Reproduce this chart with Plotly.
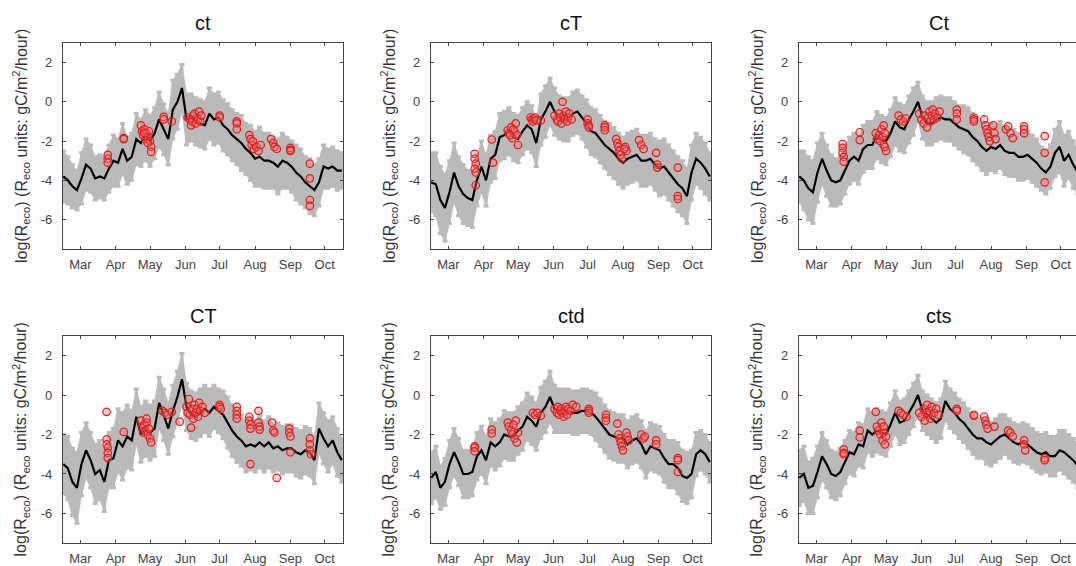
import plotly.graph_objects as go

# ---------------- data ----------------
# day of year sampling of the model output
day = [45, 49, 53, 57, 61, 65, 69, 73, 77, 81, 85, 89, 93, 97, 101, 105, 109, 113, 117, 121,
       125, 129, 133, 137, 141, 145, 149, 153, 157, 161, 165, 169, 173, 177, 181, 185, 189, 193,
       197, 201, 205, 209, 213, 217, 221, 225, 229, 233, 237, 241, 245, 249, 253, 257, 261, 265,
       269, 273, 277, 281, 285, 289]

month_ticks = [60, 91, 121, 152, 182, 213, 244, 274]
month_labels = ["Mar", "Apr", "May", "Jun", "Jul", "Aug", "Sep", "Oct"]
y_ticks = [-6, -4, -2, 0, 2]
y_labels = ["-6", "-4", "-2", "0", "2"]

panel_names = ["ct", "cT", "Ct", "CT", "ctd", "cts"]

ct_mean = [-3.8, -4.0, -4.3, -4.5, -3.9, -3.2, -3.4, -3.9, -3.8, -3.9, -3.4, -3.0, -3.1, -2.4, -3.0,
           -2.8, -1.9, -2.1, -1.7, -2.0, -1.6, -0.9, -1.4, -1.9, -0.4, 0.0, 0.7, -0.9, -0.8, -1.0,
           -1.1, -1.2, -0.6, -0.9, -0.8, -1.2, -1.4, -1.7, -1.9, -2.1, -2.4, -2.6, -2.9, -2.8, -3.0,
           -3.0, -3.1, -3.3, -3.0, -3.1, -3.3, -3.6, -3.8, -4.1, -4.3, -4.5, -4.1, -3.3, -3.4, -3.3,
           -3.5, -3.5]
ct_err = [1.3, 1.2, 1.1, 1.0, 1.3, 1.3, 1.2, 1.1, 1.1, 1.1, 1.2, 1.3, 1.2, 1.3, 1.2, 1.2, 1.3, 1.2,
          1.3, 1.3, 1.3, 1.4, 1.3, 1.3, 1.5, 1.4, 1.2, 1.3, 1.2, 1.2, 1.2, 1.2, 1.3, 1.3, 1.3, 1.3,
          1.3, 1.3, 1.3, 1.4, 1.3, 1.4, 1.4, 1.5, 1.4, 1.4, 1.3, 1.4, 1.4, 1.3, 1.3, 1.4, 1.4, 1.3,
          1.4, 1.3, 1.2, 1.1, 1.0, 1.0, 1.0, 0.9]
ct_obs = [(84, -2.7), (84, -2.9), (84, -3.1), (98, -1.85), (98, -1.9),
          (113, -1.2), (114, -1.5), (115, -1.7), (116, -1.4), (117, -1.9), (118, -1.6), (119, -1.8),
          (120, -1.5), (121, -2.0), (122, -2.3), (122, -2.55), (119, -2.1), (116, -1.6),
          (133, -0.77), (133, -0.9), (140, -1.0),
          (154, -0.8), (156, -0.9), (157, -1.2), (158, -1.0), (159, -0.7), (160, -0.6), (161, -1.1),
          (162, -0.8), (163, -0.9), (164, -0.5), (165, -1.0), (166, -0.7),
          (182, -0.7), (182, -0.8), (197, -1.0), (197, -1.1), (197, -1.4),
          (208, -1.7), (209, -1.9), (210, -2.2), (211, -2.0), (212, -2.4), (214, -2.3), (216, -2.5),
          (218, -2.2), (227, -1.9), (229, -2.1), (230, -2.3), (232, -2.4),
          (244, -2.35), (244, -2.45), (244, -2.5), (261, -3.15), (261, -3.9), (261, -5.0), (261, -5.3)]

cT_mean = [-4.1, -4.2, -5.0, -5.4, -4.6, -3.6, -4.3, -4.7, -4.9, -5.0, -4.0, -3.3, -4.0, -2.9, -2.7,
           -1.8, -1.7, -1.5, -1.8, -1.9, -1.5, -1.2, -1.4, -2.1, -0.9, -0.5, 0.0, -0.5, -0.8, -0.9,
           -0.9, -0.6, -0.5, -0.8, -1.1, -1.5, -1.6, -1.9, -2.2, -2.4, -2.6, -2.9, -3.1, -2.9, -2.8,
           -2.7, -3.0, -3.0, -2.9, -3.2, -3.4, -3.3, -3.6, -3.9, -4.2, -4.4, -4.8, -3.6, -2.9, -3.1,
           -3.4, -3.8]
cT_err = [1.5, 1.6, 1.7, 1.7, 1.6, 1.5, 1.5, 1.5, 1.4, 1.4, 1.3, 1.3, 1.3, 1.2, 1.2, 1.2, 1.2, 1.2,
          1.2, 1.2, 1.2, 1.2, 1.2, 1.2, 1.3, 1.3, 1.2, 1.2, 1.1, 1.1, 1.1, 1.1, 1.1, 1.1, 1.2, 1.2,
          1.2, 1.2, 1.2, 1.3, 1.3, 1.3, 1.3, 1.3, 1.3, 1.3, 1.3, 1.3, 1.3, 1.3, 1.4, 1.4, 1.4, 1.4,
          1.4, 1.4, 1.4, 1.4, 1.3, 1.3, 1.3, 1.2]
cT_obs = [(83, -2.65), (83, -2.9), (84, -3.15), (83, -3.4), (84, -3.6), (84, -4.25),
          (98, -1.92), (99, -3.1),
          (112, -1.45), (113, -1.6), (115, -1.3), (116, -1.85), (118, -1.5), (119, -1.1), (120, -1.7),
          (121, -2.2), (117, -1.4), (114, -1.7),
          (132, -0.8), (133, -0.9), (134, -1.0), (135, -0.85), (136, -0.8), (137, -0.95), (141, -0.95),
          (153, -0.7), (155, -0.9), (156, -1.0), (157, -0.6), (158, -0.8), (159, -1.1), (160, 0.0),
          (161, -0.7), (162, -0.9), (163, -0.5), (164, -1.0), (165, -0.8), (166, -0.6), (168, -0.9),
          (182, -0.9), (182, -1.1), (183, -1.2), (183, -1.3),
          (197, -1.2), (197, -1.3), (197, -1.45),
          (207, -1.9), (208, -2.1), (209, -2.3), (210, -2.5), (211, -2.7), (212, -2.9), (215, -2.3),
          (216, -2.5), (214, -2.4),
          (227, -1.95), (229, -2.2), (231, -2.4), (242, -2.6), (243, -3.2), (243, -3.35),
          (261, -3.35), (261, -4.8), (261, -4.95)]

Ct_mean = [-3.8, -4.0, -4.4, -4.6, -3.6, -2.9, -3.5, -4.0, -4.1, -4.0, -3.5, -3.0, -2.8, -3.0, -2.4,
           -2.2, -2.2, -1.7, -1.9, -2.0, -1.6, -1.0, -1.3, -1.4, -0.9, -0.5, 0.0, -0.8, -1.1, -1.1,
           -0.9, -0.8, -0.9, -0.9, -1.1, -1.3, -1.4, -1.5, -1.8, -2.0, -2.3, -2.5, -2.3, -2.4, -2.2,
           -2.5, -2.6, -2.6, -2.8, -2.8, -2.7, -2.9, -3.1, -3.4, -3.6, -3.3, -2.6, -2.3, -3.0, -2.7,
           -3.2, -3.6]
Ct_err = [1.3, 1.5, 1.6, 1.6, 1.5, 1.3, 1.3, 1.3, 1.2, 1.2, 1.2, 1.2, 1.2, 1.2, 1.2, 1.2, 1.2, 1.2,
          1.2, 1.2, 1.2, 1.2, 1.2, 1.2, 1.2, 1.2, 1.0, 1.1, 1.1, 1.1, 1.1, 1.1, 1.1, 1.1, 1.1, 1.1,
          1.2, 1.2, 1.2, 1.2, 1.2, 1.2, 1.2, 1.2, 1.2, 1.2, 1.2, 1.2, 1.2, 1.2, 1.2, 1.2, 1.2, 1.1,
          1.1, 1.1, 1.2, 1.3, 1.3, 1.2, 1.2, 1.1]
Ct_obs = [(83, -2.15), (83, -2.35), (83, -2.6), (84, -2.8), (84, -3.05), (98, -1.55), (98, -1.95),
          (112, -1.6), (113, -1.9), (115, -1.7), (116, -2.0), (117, -1.4), (118, -1.8), (119, -2.2),
          (120, -1.6), (121, -2.5), (120, -2.3), (119, -1.2),
          (132, -0.7), (134, -0.9), (136, -1.0), (138, -0.85),
          (150, -0.6), (152, -0.9), (154, -1.1), (155, -0.7), (157, -1.3), (158, -0.8), (159, -0.5),
          (160, -1.0), (161, -0.7), (162, -0.4), (163, -0.9), (164, -0.6), (166, -0.8), (168, -0.5),
          (183, -0.4), (183, -0.6), (183, -0.9), (198, -0.8), (198, -0.9), (198, -1.0),
          (207, -0.9), (208, -1.2), (209, -1.4), (210, -1.6), (211, -1.8), (212, -2.0), (215, -1.2),
          (216, -1.6), (217, -1.9),
          (226, -1.4), (228, -1.25), (230, -1.6), (232, -1.85), (242, -1.25), (242, -1.4), (242, -1.6),
          (260, -1.75), (260, -2.6), (260, -4.1)]

CT_mean = [-3.5, -3.7, -4.4, -4.7, -3.5, -2.8, -3.3, -4.0, -3.8, -4.4, -3.3, -3.2, -2.3, -2.6, -2.1,
           -2.3, -1.1, -2.0, -1.7, -1.9, -1.7, -0.4, -1.0, -1.7, -0.8, -0.1, 0.8, -0.6, -1.0, -1.1,
           -0.9, -0.7, -0.9, -0.6, -0.8, -1.0, -1.4, -1.8, -2.1, -2.3, -2.6, -2.5, -2.6, -2.4, -2.6,
           -2.4, -2.7, -2.6, -2.8, -2.7, -2.7, -2.9, -3.0, -2.8, -2.9, -3.3, -1.7, -2.2, -2.6, -2.3,
           -2.9, -3.3]
CT_err = [1.5, 1.6, 1.7, 1.8, 1.6, 1.4, 1.4, 1.5, 1.5, 1.5, 1.4, 1.5, 1.6, 1.7, 1.6, 1.5, 1.4, 1.4,
          1.4, 1.4, 1.4, 1.3, 1.3, 1.3, 1.3, 1.3, 1.3, 1.2, 1.2, 1.2, 1.2, 1.2, 1.2, 1.1, 1.1, 1.2,
          1.3, 1.3, 1.3, 1.3, 1.3, 1.3, 1.3, 1.3, 1.3, 1.3, 1.2, 1.2, 1.2, 1.2, 1.2, 1.2, 1.2, 1.2,
          1.2, 1.2, 1.3, 1.3, 1.3, 1.2, 1.2, 1.1]
CT_obs = [(83, -0.85), (83, -2.25), (83, -2.5), (84, -2.67), (84, -2.93), (84, -3.18), (98, -1.87),
          (113, -1.3), (114, -1.6), (115, -1.9), (116, -1.5), (117, -1.8), (118, -1.4), (118, -1.2),
          (119, -2.0), (120, -1.7), (121, -2.2), (122, -2.4),
          (132, -0.8), (134, -0.9), (136, -1.0), (140, -0.85), (147, -1.35),
          (153, -0.6), (154, -0.9), (155, -0.2), (156, -1.0), (157, -1.65), (158, -0.7), (159, -1.2),
          (160, -0.5), (161, -0.9), (162, -0.7), (163, -1.1), (164, -0.4), (165, -0.8), (167, -0.6),
          (169, -0.9),
          (182, -0.5), (182, -0.6), (183, -0.7), (197, -0.6), (197, -0.8), (197, -1.0), (197, -1.2),
          (208, -1.1), (208, -1.3), (209, -1.5), (209, -1.7), (209, -3.5), (216, -0.8), (216, -1.4),
          (217, -1.6), (217, -1.75),
          (228, -1.4), (229, -1.8), (230, -1.9), (232, -4.2), (243, -1.7), (243, -1.9), (244, -2.1),
          (244, -2.9), (261, -2.2), (261, -2.5), (261, -2.8), (262, -3.0)]

ctd_mean = [-4.2, -3.9, -4.7, -4.4, -3.5, -2.9, -3.4, -4.0, -4.0, -3.9, -3.1, -2.8, -3.3, -2.4, -2.6,
            -2.4, -2.0, -2.1, -2.1, -1.8, -1.6, -1.1, -1.3, -1.6, -0.9, -0.6, -0.1, -0.7, -0.8, -0.8,
            -0.8, -0.9, -0.9, -0.8, -0.8, -0.9, -1.1, -1.4, -1.7, -2.0, -2.1, -2.2, -2.2, -2.5, -2.3,
            -2.2, -2.5, -3.0, -2.6, -2.7, -2.8, -3.2, -3.5, -3.5, -3.7, -4.1, -4.2, -4.0, -3.0, -2.8,
            -3.0, -3.4]
ctd_err = [1.3, 1.3, 1.1, 1.2, 1.2, 1.2, 1.2, 1.2, 1.2, 1.2, 1.2, 1.2, 1.2, 1.2, 1.2, 1.2, 1.2, 1.2,
           1.2, 1.2, 1.2, 1.2, 1.2, 1.2, 1.3, 1.3, 1.3, 1.2, 1.1, 1.1, 1.1, 1.1, 1.1, 1.1, 1.1, 1.1,
           1.2, 1.2, 1.2, 1.2, 1.2, 1.2, 1.2, 1.2, 1.2, 1.2, 1.2, 1.2, 1.2, 1.2, 1.2, 1.2, 1.2, 1.2,
           1.3, 1.3, 1.3, 1.2, 1.1, 1.0, 1.0, 1.0]
ctd_obs = [(83, -2.6), (83, -2.67), (83, -2.85), (98, -1.75), (98, -1.95),
           (112, -1.4), (113, -1.6), (115, -1.8), (116, -2.0), (118, -2.2), (120, -2.4), (119, -1.3),
           (121, -1.9), (117, -1.5),
           (134, -0.9), (136, -1.0), (138, -0.9), (141, -1.05),
           (153, -0.7), (155, -0.9), (156, -0.6), (157, -1.0), (158, -0.8), (159, -0.7), (160, -0.9),
           (161, -1.1), (162, -0.8), (163, -0.6), (164, -1.0), (165, -0.7), (167, -0.8), (169, -0.5),
           (172, -0.6),
           (183, -0.7), (183, -0.8), (183, -0.9), (198, -1.0), (198, -1.15), (198, -1.3),
           (208, -1.45), (209, -2.0), (210, -2.2), (211, -2.4), (212, -2.6), (213, -2.8), (216, -1.9),
           (217, -2.1), (218, -2.3),
           (229, -2.0), (231, -2.2), (232, -2.1), (242, -2.3), (242, -2.5),
           (261, -3.2), (261, -3.3), (261, -3.9)]

cts_mean = [-4.2, -4.0, -4.7, -4.6, -3.9, -3.1, -3.5, -4.0, -4.1, -3.9, -3.4, -2.9, -3.0, -2.5, -2.6,
            -1.8, -2.0, -1.8, -1.9, -2.0, -1.5, -0.9, -1.4, -1.3, -0.9, -0.5, 0.0, -0.8, -1.0, -1.2,
            -1.4, -1.2, -0.3, -0.7, -0.9, -1.2, -1.4, -1.7, -2.0, -2.2, -2.2, -2.4, -2.5, -2.3, -2.1,
            -2.0, -2.2, -2.4, -2.5, -2.4, -2.5, -2.7, -2.9, -3.0, -2.9, -3.1, -3.1, -2.8, -2.9, -3.1,
            -3.3, -3.6]
cts_err = [1.4, 1.4, 1.3, 1.4, 1.3, 1.2, 1.2, 1.2, 1.2, 1.2, 1.1, 1.1, 1.1, 1.1, 1.1, 1.1, 1.1, 1.1,
           1.1, 1.1, 1.1, 1.1, 1.1, 1.1, 1.1, 1.1, 1.0, 1.0, 1.0, 1.0, 1.0, 1.0, 1.0, 1.0, 1.0, 1.0,
           1.0, 1.0, 1.0, 1.0, 1.0, 1.1, 1.1, 1.1, 1.1, 1.0, 1.0, 1.0, 1.0, 1.0, 1.0, 1.0, 1.0, 1.0,
           1.0, 1.0, 1.0, 1.0, 1.1, 1.1, 1.1, 1.1]
cts_obs = [(84, -2.75), (84, -2.93), (84, -3.0), (98, -1.8), (98, -2.15), (112, -0.85),
           (113, -1.6), (114, -1.8), (116, -2.0), (117, -1.4), (118, -2.3), (119, -1.9), (120, -2.5),
           (121, -2.1), (119, -1.6),
           (132, -0.8), (134, -0.9), (136, -1.0), (139, -1.1),
           (150, -0.9), (152, -1.1), (154, -0.7), (155, -1.3), (156, -0.9), (157, -0.5), (158, -1.0),
           (159, -0.8), (160, -1.2), (161, -0.6), (163, -0.9), (165, -0.7), (167, -1.0),
           (183, -0.7), (183, -0.8), (198, -1.0), (198, -1.05),
           (207, -1.1), (208, -1.3), (209, -1.5), (210, -1.7), (216, -1.6),
           (228, -1.8), (230, -1.9), (232, -2.1), (242, -2.3), (242, -2.5), (243, -2.8),
           (260, -3.2), (260, -3.3)]

means = [ct_mean, cT_mean, Ct_mean, CT_mean, ctd_mean, cts_mean]
errs = [ct_err, cT_err, Ct_err, CT_err, ctd_err, cts_err]
obs = [ct_obs, cT_obs, Ct_obs, CT_obs, ctd_obs, cts_obs]

# ---------------- layout geometry (pixels) ----------------
W, H = 1076, 566
col_px = [(63, 343), (431, 711), (799, 1076)]
row_px = [(43, 250), (337, 545)]
x_left = 44.8
px_per_day = 1.1417

FONT = "Liberation Sans, Arial, Helvetica, sans-serif"
AX = "#444444"
GRAY = "#bababa"
RED = "#e41a1c"

fig = go.Figure()
annotations = []

for i in range(6):
    r, c = divmod(i, 3)
    n = i + 1
    xa = "x" if n == 1 else f"x{n}"
    ya = "y" if n == 1 else f"y{n}"
    m, e = means[i], errs[i]
    hi = [a + b for a, b in zip(m, e)]
    lo = [a - b for a, b in zip(m, e)]
    # gray uncertainty band
    fig.add_trace(go.Scatter(x=day + day[::-1], y=hi + lo[::-1], fill="toself",
                             fillcolor=GRAY, mode="lines", line=dict(width=0.8, color=GRAY),
                             hoverinfo="skip", xaxis=xa, yaxis=ya))
    # error-bar caps giving the ragged edge texture
    fig.add_trace(go.Scatter(x=day, y=m, mode="markers", marker=dict(size=1, color=GRAY),
                             error_y=dict(type="data", array=e, symmetric=True, color=GRAY,
                                          thickness=3, width=2.5),
                             hoverinfo="skip", xaxis=xa, yaxis=ya))
    # model mean
    fig.add_trace(go.Scatter(x=day, y=m, mode="lines", line=dict(color="black", width=2.2),
                             xaxis=xa, yaxis=ya))
    # observations
    fig.add_trace(go.Scatter(x=[p[0] for p in obs[i]], y=[p[1] for p in obs[i]], mode="markers",
                             marker=dict(symbol="circle", size=7.5, color="rgba(235,120,120,0.35)",
                                         line=dict(color=RED, width=1.2)),
                             xaxis=xa, yaxis=ya))

    x0, x1 = col_px[c]
    y0, y1 = row_px[r]
    xr = [x_left, x_left + (x1 - x0) / px_per_day]
    common = dict(ticks="inside", ticklen=3, tickcolor=AX, tickwidth=1, showline=True,
                  linecolor=AX, linewidth=1.3, showgrid=False, zeroline=False,
                  tickfont=dict(family=FONT, size=13, color="#444444"))
    fig.layout[f"xaxis{'' if n == 1 else n}"] = dict(
        domain=[x0 / W, x1 / W], range=xr, tickvals=month_ticks, ticktext=month_labels,
        mirror="ticks", anchor=ya, ticklabelstandoff=3, **common)
    fig.layout[f"yaxis{'' if n == 1 else n}"] = dict(
        domain=[1 - y1 / H, 1 - y0 / H], range=[-7.5, 3], tickvals=y_ticks, ticktext=y_labels,
        mirror=("ticks" if c < 2 else False), anchor=xa, ticklabelstandoff=7, **common)

    # panel title
    annotations.append(dict(text=panel_names[i], x=(x0 + 140) / W, y=1 - (y0 - 20) / H,
                            xref="paper", yref="paper", showarrow=False, xanchor="center",
                            yanchor="middle", font=dict(family=FONT, size=20, color="#111111")))
    # y-axis label
    annotations.append(dict(text="log(R<sub>eco</sub>) (R<sub>eco</sub> units: gC/m<sup>2</sup>/hour)",
                            x=(x0 - 42) / W, y=1 - ((y0 + y1) / 2) / H, xref="paper", yref="paper",
                            showarrow=False, textangle=-90, xanchor="center", yanchor="middle",
                            font=dict(family=FONT, size=16, color="#333333")))

fig.update_layout(width=W, height=H, margin=dict(l=0, r=0, t=0, b=0),
                  paper_bgcolor="white", plot_bgcolor="white", showlegend=False,
                  annotations=annotations)

fig.write_html("out.html", config={"displayModeBar": False},
               post_script="document.body.style.margin='0px';document.body.style.overflow='hidden';")
